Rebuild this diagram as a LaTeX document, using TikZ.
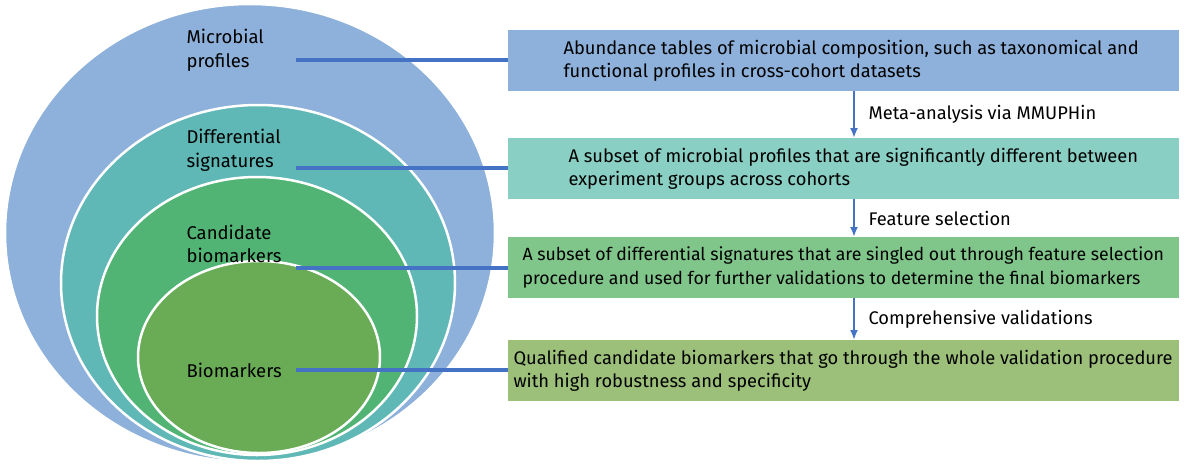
\documentclass[tikz,border=0pt]{standalone}
\usepackage{fontspec}
\setmainfont{Fira Sans}
\usetikzlibrary{arrows.meta}
\begin{document}
\begin{tikzpicture}[x=1pt,y=-1pt,
  ring/.style={draw=white,line width=2.5pt},
  info/.style={anchor=north west,minimum width=671pt,minimum height=61pt,inner sep=0pt},
  txt/.style={anchor=west,align=left,font=\fontsize{18.3}{23.5}\selectfont},
  lab/.style={align=left,anchor=west,font=\fontsize{18.5}{23.5}\selectfont},
  link/.style={draw=lk,line width=3.5pt},
  flow/.style={draw=lk,line width=2.4pt,-{Latex[length=10pt,width=8pt]}}]
\definecolor{c1}{HTML}{8DB1DA}\definecolor{c2}{HTML}{5FB8B6}
\definecolor{c3}{HTML}{52B474}\definecolor{c4}{HTML}{6AAB55}
\definecolor{b1}{HTML}{8DB1DA}\definecolor{b2}{HTML}{89CFC3}
\definecolor{b3}{HTML}{80C68B}\definecolor{b4}{HTML}{9CC07A}
\definecolor{lk}{HTML}{4472C4}
\useasboundingbox (0,0) rectangle (1200,467);
\fill[c1,ring] (250,233) ellipse (245 and 229);
\fill[c2,ring] (258,283) ellipse (197 and 178);
\fill[c3,ring] (257,316) ellipse (160 and 139);
\fill[c4,ring] (259,357) ellipse (121 and 96);
\node[lab] (l1) at (183,50) {Microbial\\profiles};
\node[lab] (l2) at (183,150) {Differential\\signatures};
\node[lab] (l3) at (183,244) {Candidate\\biomarkers};
\node[lab] (l4) at (183,370) {Biomarkers};
\coordinate (s1) at (296,60);\coordinate (s2) at (296,168);
\coordinate (s3) at (296,268);\coordinate (s4) at (296,370);
\node[info,fill=b1] (B1) at (508,30) {};
\node[info,fill=b2] (B2) at (508,138) {};
\node[info,fill=b3] (B3) at (508,237) {};
\node[info,fill=b4] (B4) at (508,340) {};
\node[txt] at ([xshift=52pt]B1.west) {Abundance tables of microbial composition, such as taxonomical and\\functional profiles in cross-cohort datasets};
\node[txt] at ([xshift=57pt]B2.west) {A subset of microbial profiles that are significantly different between\\experiment groups across cohorts};
\node[txt,font=\fontsize{17.7}{23.5}\selectfont] at ([xshift=11pt]B3.west) {A subset of differential signatures that are singled out through feature selection\\procedure and used for further validations to determine the final biomarkers};
\node[txt] at ([xshift=2pt]B4.west) {Qualified candidate biomarkers that go through the whole validation procedure\\with high robustness and specificity};
\draw[link] (s1) -- (B1.west|-s1);
\draw[link] (s2) -- (B2.west|-s2);
\draw[link] (s3) -- (B3.west|-s3);
\draw[link] (s4) -- (B4.west|-s4);
\draw[flow] (854,91) -- (854,138) node[midway,right=10pt,font=\fontsize{18.3}{23}\selectfont]{Meta-analysis via MMUPHin};
\draw[flow] (854,199) -- (854,237) node[midway,right=10pt,font=\fontsize{18.3}{23}\selectfont]{Feature selection};
\draw[flow] (854,298) -- (854,340) node[midway,right=10pt,font=\fontsize{18.3}{23}\selectfont]{Comprehensive validations};
\end{tikzpicture}
\end{document}
